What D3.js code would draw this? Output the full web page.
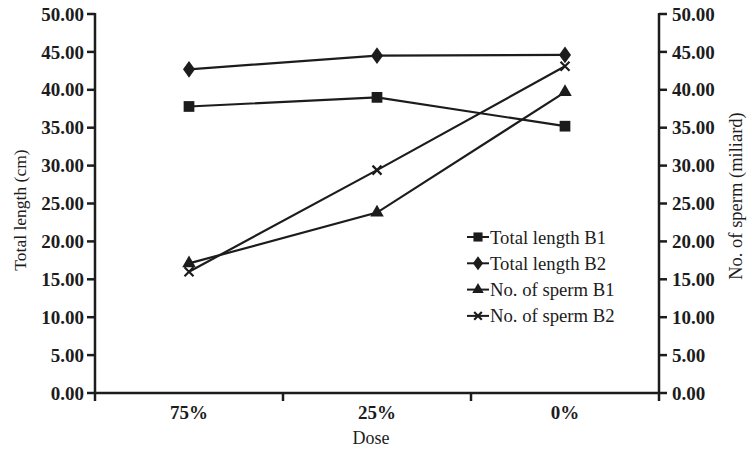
<!DOCTYPE html>
<html><head><meta charset="utf-8">
<script src="https://cdn.jsdelivr.net/npm/d3@7"></script>
<style>body{margin:0;background:#fff}svg{display:block}svg text{font-family:'Liberation Serif','DejaVu Serif','Times New Roman',Times,serif}</style>
</head><body><svg id="c" width="751" height="456"></svg>
<script>
const doses = ["75%", "25%", "0%"];
const leftTicks = [0,5,10,15,20,25,30,35,40,45,50];
const rightTicks = [0,5,10,15,20,25,30,35,40,45,50];
const totalLengthB1 = [37.8, 39.0, 35.2];
const totalLengthB2 = [42.7, 44.5, 44.6];
const spermB1 = [17.1, 23.8, 39.7];
const spermB2 = [16.0, 29.4, 43.1];
const seriesNames = ["Total length B1","Total length B2","No. of sperm B1","No. of sperm B2"];

const svg = d3.select("#c");
const m = {l:95, r:92, t:14, b:63};
const W = 751, H = 456;
const x = d3.scaleBand().domain(doses).range([m.l, W-m.r]);
const yL = d3.scaleLinear().domain([0,50]).range([H-m.b, m.t]);
const yR = d3.scaleLinear().domain([0,50]).range([H-m.b, m.t]);
const col = "#1c1c1c";
const TICKFS = 19;

// x axis
const xa = svg.append("g").attr("transform",`translate(0,${H-m.b})`);
xa.append("line").attr("x1",m.l-1).attr("x2",W-m.r+1).attr("stroke",col).attr("stroke-width",2.5);
const bounds = doses.map(d=>x(d)).concat([W-m.r]);
xa.selectAll("line.t").data(bounds).join("line").attr("class","t")
  .attr("x1",d=>d).attr("x2",d=>d).attr("y1",0).attr("y2",8).attr("stroke",col).attr("stroke-width",2.5);
xa.selectAll("text").data(doses).join("text")
  .attr("x",d=>x(d)+x.bandwidth()/2).attr("y",26).attr("text-anchor","middle")
  .attr("font-size",TICKFS).attr("font-weight","bold").attr("fill",col).text(d=>d);

// left axis
const la = svg.append("g");
la.append("line").attr("x1",m.l).attr("x2",m.l).attr("y1",yL(50)-1).attr("y2",yL(0)).attr("stroke",col).attr("stroke-width",2.5);
la.selectAll("line.t").data(leftTicks).join("line").attr("class","t")
  .attr("x1",m.l-8).attr("x2",m.l).attr("y1",d=>yL(d)).attr("y2",d=>yL(d)).attr("stroke",col).attr("stroke-width",2.5);
la.selectAll("text").data(leftTicks).join("text")
  .attr("x",m.l-11).attr("y",d=>yL(d)).attr("dy","0.35em").attr("text-anchor","end")
  .attr("font-size",TICKFS).attr("font-weight","bold").attr("fill",col).text(d=>d.toFixed(2));

// right axis
const rx = W-m.r;
const ra = svg.append("g");
ra.append("line").attr("x1",rx).attr("x2",rx).attr("y1",yR(50)-1).attr("y2",yR(0)).attr("stroke",col).attr("stroke-width",2.5);
ra.selectAll("line.t").data(rightTicks).join("line").attr("class","t")
  .attr("x1",rx).attr("x2",rx+8).attr("y1",d=>yR(d)).attr("y2",d=>yR(d)).attr("stroke",col).attr("stroke-width",2.5);
ra.selectAll("text").data(rightTicks).join("text")
  .attr("x",rx+13).attr("y",d=>yR(d)).attr("dy","0.35em").attr("text-anchor","start")
  .attr("font-size",TICKFS).attr("font-weight","bold").attr("fill",col).text(d=>d.toFixed(2));

// titles
svg.append("text").attr("transform",`translate(26,210) rotate(-90)`)
  .attr("text-anchor","middle").attr("font-size",17.5).attr("fill",col).text("Total length (cm)");
svg.append("text").attr("transform",`translate(742,196) rotate(-90)`)
  .attr("text-anchor","middle").attr("font-size",18.5).attr("fill",col).text("No. of sperm (miliard)");
svg.append("text").attr("x",(m.l+W-m.r)/2-6).attr("y",444).attr("text-anchor","middle")
  .attr("font-size",18).attr("fill",col).text("Dose");

const cx = d => x(d)+x.bandwidth()/2;
const series = [
  {name:seriesNames[0], vals:totalLengthB1, y:yL, sym:d3.symbolSquare, size:115},
  {name:seriesNames[1], vals:totalLengthB2, y:yL, sym:d3.symbolDiamond, size:80},
  {name:seriesNames[2], vals:spermB1, y:yR, sym:d3.symbolTriangle, size:80},
  {name:seriesNames[3], vals:spermB2, y:yR, sym:d3.symbolCross, size:0}
];
const line = d3.line();
const drawSym = (g, s, px, py, scale) => {
  if (s.sym === d3.symbolCross) {
    const r = 4.5*scale;
    g.append("path").attr("d",`M${px-r},${py-r}L${px+r},${py+r}M${px-r},${py+r}L${px+r},${py-r}`)
      .attr("stroke",col).attr("stroke-width",2.2).attr("fill","none");
  } else {
    g.append("path").attr("d",d3.symbol().type(s.sym).size(s.size*scale*scale)())
      .attr("transform",`translate(${px},${py})${s.sym===d3.symbolDiamond?" scale(1.25,1)":""}`).attr("fill",col);
  }
};
series.forEach(s=>{
  const pts = doses.map((d,i)=>[cx(d), s.y(s.vals[i])]);
  svg.append("path").attr("d",line(pts)).attr("fill","none").attr("stroke",col).attr("stroke-width",2.2);
  const g = svg.append("g");
  pts.forEach(p=>drawSym(g,s,p[0],p[1],1));
});

// legend
const lg = svg.append("g").attr("transform","translate(467,237)");
series.forEach((s,i)=>{
  const yy = i*26.3;
  lg.append("line").attr("x1",0).attr("x2",22).attr("y1",yy).attr("y2",yy).attr("stroke",col).attr("stroke-width",2);
  drawSym(lg,s,11,yy,0.85);
  lg.append("text").attr("x",23).attr("y",yy).attr("dy","0.35em").attr("font-size",18.7).attr("fill",col).text(s.name);
});
</script></body></html>
